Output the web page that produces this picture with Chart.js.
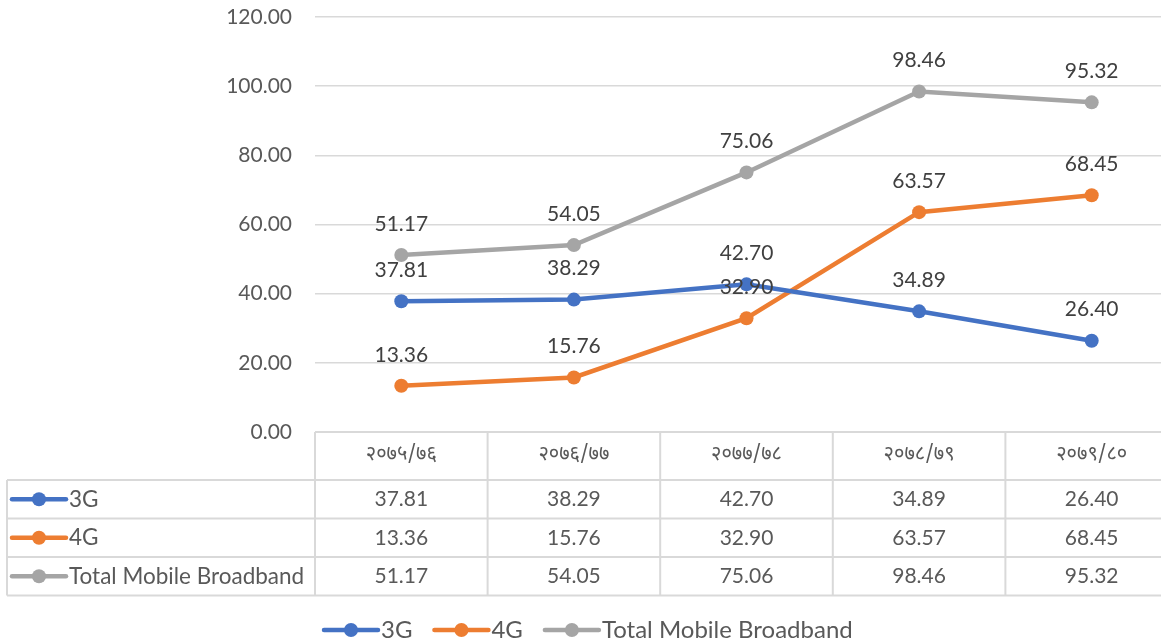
<!DOCTYPE html>
<html>
<head>
<meta charset="utf-8">
<script src="https://cdn.jsdelivr.net/npm/chart.js@4/dist/chart.umd.min.js"></script>
<style>
  html, body { margin: 0; padding: 0; background: #fff; overflow: hidden; }
  #wrap { width: 1186px; height: 642px; }
</style>
</head>
<body>
<div id="wrap"><canvas id="c" width="1186" height="642"></canvas></div>
<script>
// données du graphique
const categories = ['२०७५/७६', '२०७६/७७', '२०७७/७८', '२०७८/७९', '२०७९/८०'];
const series3G = [37.81, 38.29, 42.70, 34.89, 26.40];
const series4G = [13.36, 15.76, 32.90, 63.57, 68.45];
const seriesTotal = [51.17, 54.05, 75.06, 98.46, 95.32];
const seriesNames = ['3G', '4G', 'Total Mobile Broadband'];
const yMin = 0, yMax = 120, yStep = 20;

const colors = ['#4472C4', '#ED7D31', '#A5A5A5'];
const FONT = 'Lato, "Open Sans", "Noto Sans", sans-serif';
const DEVA = '"Noto Sans Devanagari", "Noto Sans", Lato, sans-serif';
const gridColor = '#d9d9d9';

// petite fonction pour le marqueur de légende (ligne + rond)
function drawKey(ctx, x1, x2, y, color) {
  ctx.save();
  ctx.strokeStyle = color;
  ctx.lineWidth = 4.5;
  ctx.lineCap = 'round';
  ctx.beginPath();
  ctx.moveTo(x1, y);
  ctx.lineTo(x2, y);
  ctx.stroke();
  ctx.fillStyle = color;
  ctx.beginPath();
  ctx.arc((x1 + x2) / 2, y, 7, 0, Math.PI * 2);
  ctx.fill();
  ctx.restore();
}

// plugin : étiquettes, tableau de données et légende du bas
const tablePlugin = {
  id: 'tablePlugin',
  afterDatasetsDraw(chart) {
    const ctx = chart.ctx;
    ctx.save();
    ctx.font = '21px ' + FONT;
    ctx.fillStyle = '#404040';
    ctx.textAlign = 'center';
    ctx.textBaseline = 'middle';
    chart.data.datasets.forEach((ds, i) => {
      const meta = chart.getDatasetMeta(i);
      meta.data.forEach((pt, j) => {
        ctx.fillText(ds.data[j].toFixed(2), pt.x, pt.y - 31);
      });
    });
    ctx.restore();
  },
  afterDraw(chart) {
    const ctx = chart.ctx;
    const xs = chart.scales.x;
    const area = chart.chartArea;
    const step = xs.getPixelForValue(1) - xs.getPixelForValue(0);
    const left = xs.getPixelForValue(0) - step / 2;
    const right = xs.getPixelForValue(categories.length - 1) + step / 2;
    const top = area.bottom;
    const headerBottom = top + 48;
    const rowH = 38.5;
    const tableLeft = 7;
    const rows = [series3G, series4G, seriesTotal];
    const bottom = headerBottom + rows.length * rowH;

    ctx.save();
    ctx.strokeStyle = gridColor;
    ctx.lineWidth = 2;
    ctx.beginPath();
    ctx.moveTo(left, top); ctx.lineTo(right, top);
    for (let r = 0; r <= rows.length; r++) {
      const y = headerBottom + r * rowH;
      ctx.moveTo(tableLeft, y); ctx.lineTo(right, y);
    }
    ctx.moveTo(tableLeft, headerBottom); ctx.lineTo(tableLeft, bottom);
    for (let c = 0; c <= categories.length; c++) {
      const x = left + c * step;
      ctx.moveTo(x, top); ctx.lineTo(x, bottom);
    }
    ctx.stroke();

    // en-têtes
    ctx.fillStyle = '#595959';
    ctx.textAlign = 'center';
    ctx.textBaseline = 'middle';
    ctx.font = '20px ' + DEVA;
    categories.forEach((cat, i) => {
      ctx.fillText(cat, xs.getPixelForValue(i), (top + headerBottom) / 2);
    });

    // valeurs
    rows.forEach((vals, r) => {
      const cy = headerBottom + r * rowH + rowH / 2;
      ctx.font = '21px ' + FONT;
      vals.forEach((v, i) => {
        ctx.fillText(v.toFixed(2), xs.getPixelForValue(i), cy);
      });
      drawKey(ctx, 12, 66, cy, colors[r]);
      ctx.textAlign = 'left';
      ctx.font = '22.5px ' + FONT;
      ctx.fillText(seriesNames[r], 69, cy);
      ctx.textAlign = 'center';
    });

    // légende du bas
    const ly = 630;
    ctx.textAlign = 'left';
    ctx.font = '24px ' + FONT;
    const keyW = 54;
    const widths = seriesNames.map(n => ctx.measureText(n).width);
    let x = 324;
    seriesNames.forEach((n, i) => {
      drawKey(ctx, x, x + keyW, ly, colors[i]);
      ctx.fillText(n, x + keyW + 3, ly);
      x += keyW + 3 + widths[i] + 22;
    });
    ctx.restore();
  }
};

const chart = new Chart(document.getElementById('c'), {
  type: 'line',
  data: {
    labels: categories,
    datasets: [series3G, series4G, seriesTotal].map((d, i) => ({
      label: seriesNames[i],
      data: d,
      borderColor: colors[i],
      backgroundColor: colors[i],
      borderWidth: 4.5,
      pointRadius: 7,
      pointHoverRadius: 7,
      pointBorderWidth: 0,
      tension: 0
    }))
  },
  options: {
    responsive: false,
    animation: false,
    layout: { padding: { top: 17, bottom: 210, right: 8, left: 0 } },
    plugins: {
      legend: { display: false },
      tooltip: { enabled: false }
    },
    scales: {
      x: {
        type: 'category',
        offset: true,
        display: false
      },
      y: {
        min: yMin,
        max: yMax,
        afterFit: (scale) => {
          scale.width = 315;
          scale.paddingTop = 0;
          scale.paddingBottom = 0;
        },
        ticks: {
          stepSize: yStep,
          padding: 23,
          color: '#595959',
          font: { family: FONT, size: 21 },
          callback: (v) => Number(v).toFixed(2)
        },
        grid: { color: gridColor, lineWidth: 1.5, drawTicks: false },
        border: { display: false }
      }
    }
  },
  plugins: [tablePlugin]
});
</script>
</body>
</html>
